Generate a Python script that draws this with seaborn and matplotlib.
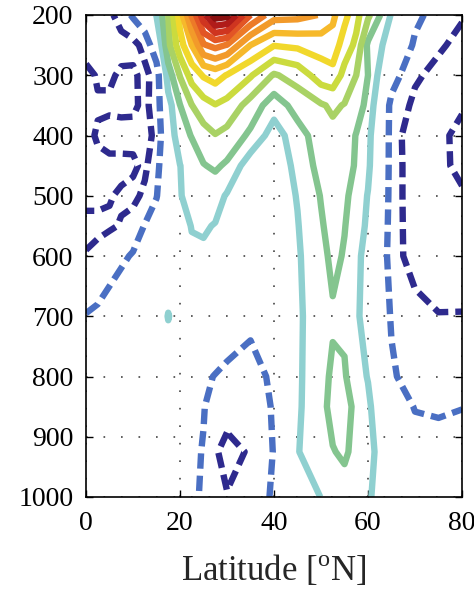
import numpy as np
import matplotlib
matplotlib.use("Agg")
import matplotlib.pyplot as plt
import seaborn as sns

# latitude columns (deg N) and pressure rows (hPa)
lat = [0, 2.5, 5, 7.5, 10, 12.5, 15, 17.5, 20, 22.5, 25, 27.5, 30, 35, 40, 45,
       50, 52.5, 55, 57.5, 60, 65, 70, 75, 80]
pres = [200, 250, 300, 350, 400, 450, 500, 550, 600, 700, 800, 850, 925, 1000]

# field values, one row per pressure level
u200 = [-2.6, -2.5, -2.2, -1.6, -0.85, -0.1, 1.05, 3.0, 5.4, 8.1, 10.6, 12.5, 12.3, 9.0, 7.4, 7.3, 6.95, 6.2, 5.3, 4.3, 3.2, 0.9, -0.7, -1.5, -1.9]
u250 = [-2.5, -2.45, -2.4, -2.35, -2.3, -1.7, -0.2, 2.73, 4.6, 6.0, 7.9, 8.3, 7.95, 6.0, 5.05, 5.2, 5.4, 5.6, 4.5, 3.8, 1.8, 0.5, -1.2, -1.85, -2.3]
u300 = [-1.7, -2.1, -2.15, -1.85, -1.85, -2.25, -1.6, 1.5, 3.06, 4.4, 5.1, 5.4, 4.95, 4.1, 2.9, 3.4, 4.5, 4.65, 3.7, 3.0, 2.0, -0.5, -1.85, -2.3, -2.4]
u350 = [-1.8, -1.9, -1.85, -1.8, -1.85, -2.2, -1.6, 0.6, 1.98, 2.98, 3.6, 3.95, 3.7, 2.6, 1.45, 2.4, 2.9, 3.15, 2.95, 2.5, 1.7, -1.3, -2.22, -2.4, -2.3]
u400 = [-1.75, -2.1, -2.3, -2.3, -2.25, -2.3, -1.8, 0.3, 1.6, 2.05, 2.6, 2.95, 2.7, 1.8, 0.5, 1.6, 2.5, 2.75, 2.6, 1.95, 1.3, -1.3, -2.9, -2.6, -1.3]
u450 = [-1.8, -1.8, -1.8, -1.8, -1.85, -2.2, -1.3, 0.0, 0.98, 1.5, 1.95, 2.15, 1.85, 0.4, 0.5, 1.2, 2.4, 2.5, 2.4, 1.9, 1.2, -1.3, -2.8, -2.4, -1.6]
u500 = [-1.8, -1.85, -1.95, -2.1, -2.25, -1.8, -1.05, 0.0, 0.95, 1.3, 1.5, 1.4, 0.9, 0.3, 0.4, 1.05, 2.05, 2.4, 2.2, 1.6, 0.95, -1.3, -2.8, -2.6, -2.2]
u550 = [-2.2, -2.15, -2.1, -1.95, -1.6, -0.95, -0.5, -0.1, 0.5, 1.05, 1.1, 0.95, 0.7, 0.25, 0.35, 0.95, 1.9, 2.35, 2.05, 1.4, 0.85, -1.35, -2.7, -2.65, -2.4]
u600 = [-1.95, -1.8, -1.5, -1.2, -0.9, -0.5, -0.2, 0.2, 0.5, 0.8, 0.85, 0.7, 0.5, 0.2, 0.3, 0.9, 1.6, 2.3, 1.9, 1.2, 0.7, -1.4, -2.6, -2.7, -2.6]
u700 = [-0.95, -0.8, -0.5, -0.2, 0.0, 0.1, 0.2, 1.05, 0.4, 0.4, 0.3, 0.1, -0.4, -0.8, -0.3, 0.85, 1.5, 1.85, 1.8, 1.15, 0.6, -1.1, -1.5, -1.95, -1.95]
u800 = [-0.6, -0.5, -0.4, -0.3, -0.2, -0.1, 0.0, 0.3, 0.1, -0.5, -0.8, -1.05, -1.2, -1.3, -0.85, 0.85, 1.6, 2.2, 2.1, 1.4, 0.95, -0.85, -1.5, -1.4, -1.3]
u850 = [-0.4, -0.35, -0.3, -0.25, -0.2, -0.1, 0.0, 0.0, -0.2, -0.6, -0.95, -1.4, -1.6, -1.6, -0.9, 0.85, 1.7, 2.3, 2.3, 1.8, 1.2, -0.4, -1.05, -1.1, -1.02]
u925 = [-0.3, -0.3, -0.3, -0.25, -0.2, -0.15, -0.1, -0.1, -0.3, -0.8, -1.05, -1.9, -2.3, -1.9, -0.95, 0.95, 1.6, 1.95, 2.15, 1.7, 1.5, -0.3, -0.6, -0.7, -0.7]
u1000 = [-0.3, -0.3, -0.3, -0.3, -0.25, -0.2, -0.15, -0.15, -0.4, -0.7, -1.2, -1.6, -1.95, -1.5, -0.88, 0.4, 1.02, 1.5, 1.6, 1.5, 1.2, -0.2, -0.5, -0.6, -0.6]

neg_levels = [-2, -1]
pos_levels = [1, 2, 3, 4, 5, 6, 7, 8, 9, 10, 11, 12]
neg_colors = ['#2e2a8e', '#4a6fc3']
pos_colors = ['#8fd0d0', '#84c58f', '#a9d265', '#cbdb3e', '#f1d82c', '#f6b92b',
              '#f29a2a', '#ec7a28', '#e25525', '#cf3520', '#b01c1a', '#8a1010']

xticks = [0, 20, 40, 60, 80]
yticks = [200, 300, 400, 500, 600, 700, 800, 900, 1000]

sns.set_theme(style="ticks")
plt.rcParams['font.family'] = ['Liberation Serif', 'DejaVu Serif']
plt.rcParams['mathtext.fontset'] = 'custom'
plt.rcParams['mathtext.rm'] = 'Liberation Serif'
plt.rcParams['lines.dashed_pattern'] = [2.4, 1.1]

field = np.array([u200, u250, u300, u350, u400, u450, u500, u550, u600,
                  u700, u800, u850, u925, u1000])

fig = plt.figure(figsize=(4.74, 5.92), dpi=100)
ax = fig.add_axes([86 / 474, 1 - 497 / 592, (462 - 86) / 474, (497 - 15) / 592])

ax.grid(True, color='#444444', linestyle=(0, (1, 9.5)), linewidth=1.2)
ax.set_axisbelow(True)

ax.contour(lat, pres, field, levels=neg_levels, colors=neg_colors,
           linewidths=4.6, linestyles='dashed')
ax.contour(lat, pres, field, levels=pos_levels, colors=pos_colors,
           linewidths=4.6, linestyles='solid')

ax.set_xlim(0, 80)
ax.set_ylim(1000, 200)
ax.set_xticks(xticks)
ax.set_yticks(yticks)
ax.tick_params(direction='in', length=5, width=1, top=True, right=True,
               labelsize=20, colors='black')
ax.tick_params(axis='x', pad=10)
ax.tick_params(axis='y', pad=9)
for s in ax.spines.values():
    s.set_color('black')
    s.set_linewidth(1.2)
ax.set_xlabel(r'Latitude [$^{\mathrm{o}}$N]', fontsize=25, labelpad=12)

fig.savefig('out.png', dpi=100)
